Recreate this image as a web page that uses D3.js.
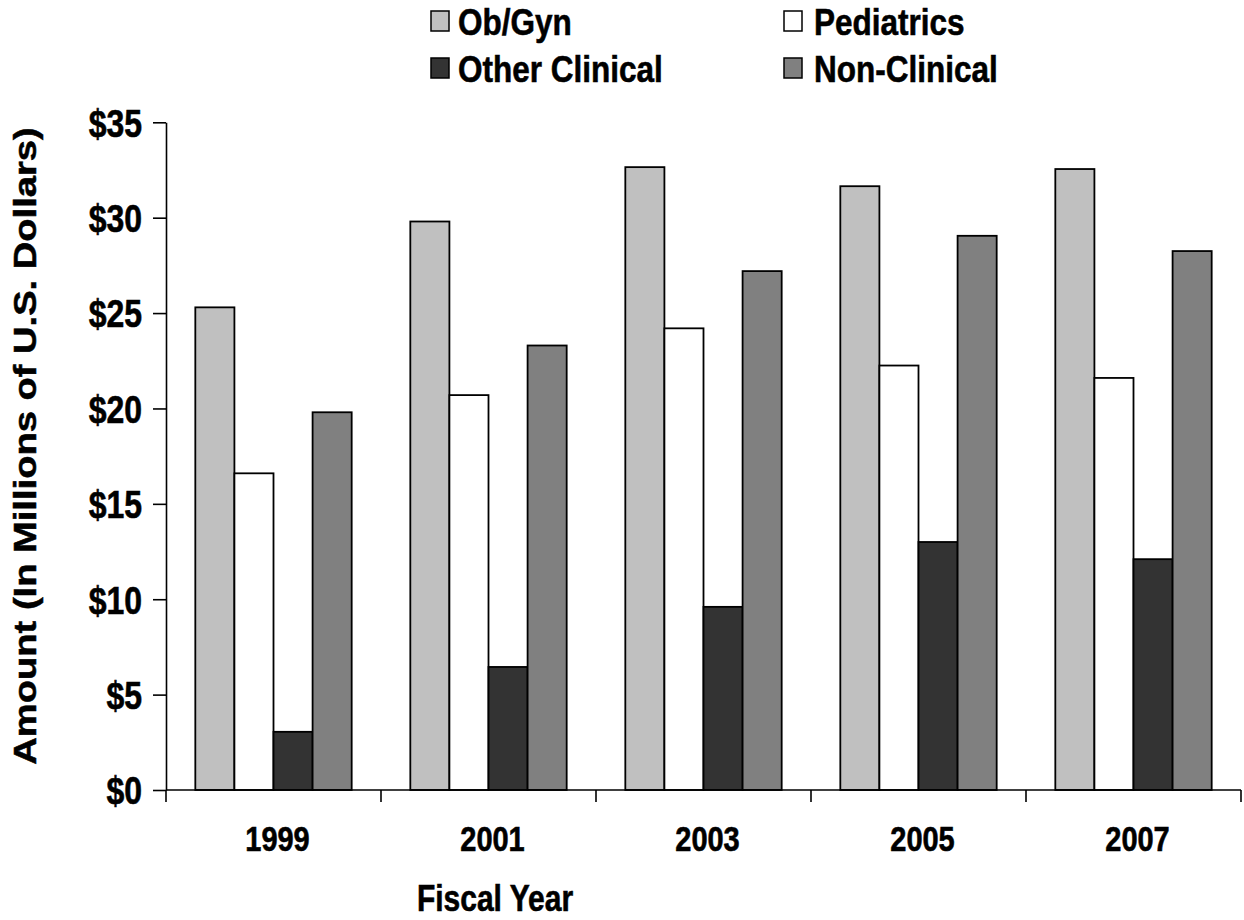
<!DOCTYPE html>
<html>
<head>
<meta charset="utf-8">
<script src="https://cdn.jsdelivr.net/npm/d3@7"></script>
<style>
  body { margin: 0; background: #fff; }
  text { font-family: "Liberation Sans", Arial, sans-serif; font-weight: bold; fill: #000; stroke: #000; stroke-width: 0.5px; }
</style>
</head>
<body>
<svg id="chart" width="1244" height="920"></svg>
<script>
const years = ["1999", "2001", "2003", "2005", "2007"];
const seriesNames = ["Ob/Gyn", "Pediatrics", "Other Clinical", "Non-Clinical"];
const obGyn = [25.3, 29.8, 32.65, 31.65, 32.55];
const pediatrics = [16.6, 20.7, 24.2, 22.25, 21.6];
const otherClinical = [3.05, 6.45, 9.6, 13.0, 12.1];
const nonClinical = [19.8, 23.3, 27.2, 29.05, 28.25];
const seriesColors = ["#C0C0C0", "#FFFFFF", "#333333", "#808080"];
const yTicks = [0, 5, 10, 15, 20, 25, 30, 35];

(function () {
const seriesValues = [obGyn, pediatrics, otherClinical, nonClinical];
const data = years.map((yv, i) => ({ year: yv, values: seriesNames.map((s, j) => ({ key: s, value: seriesValues[j][i] })) }));

const svg = d3.select("#chart");
const mLeft = 166, mRight = 1241, mTop = 122.3, mBottom = 790;
const K = 1.2; // vertical stretch of the lettering

const x0 = d3.scaleBand().domain(years).range([mLeft, mRight]).paddingInner(0).paddingOuter(0);
const x1 = d3.scaleBand().domain(seriesNames).range([0, x0.bandwidth()]).paddingOuter(0.75).paddingInner(0);
const y = d3.scaleLinear().domain([0, 35]).range([mBottom, mTop]);
const color = d3.scaleOrdinal().domain(seriesNames).range(seriesColors);

// bars
const groups = svg.append("g").selectAll("g").data(data).join("g")
  .attr("transform", d => `translate(${x0(d.year)},0)`);
groups.selectAll("rect").data(d => d.values).join("rect")
  .attr("x", d => x1(d.key))
  .attr("y", d => y(d.value))
  .attr("width", x1.bandwidth())
  .attr("height", d => y(0) - y(d.value))
  .attr("fill", d => color(d.key))
  .attr("stroke", "#000")
  .attr("stroke-width", 1.8);

// y axis
const yAxis = d3.axisLeft(y).tickValues(yTicks).tickFormat(d => "$" + d).tickSizeOuter(0).tickSizeInner(13).tickPadding(0);
const gy = svg.append("g").attr("transform", `translate(${mLeft},0)`).call(yAxis);
gy.select(".domain").attr("stroke", "#000").attr("stroke-width", 1.6);
gy.selectAll(".tick line").attr("stroke", "#000").attr("stroke-width", 1.6);
gy.selectAll(".tick text")
  .attr("x", 0).attr("dy", "0.36em")
  .attr("transform", `translate(-24,0) scale(1,${K})`)
  .style("font-size", "32px");

// x axis
const gx = svg.append("g").attr("transform", `translate(0,${mBottom})`);
gx.append("line").attr("x1", mLeft).attr("x2", mRight).attr("y1", 0).attr("y2", 0)
  .attr("stroke", "#000").attr("stroke-width", 1.6);
const boundaries = years.map(yv => x0(yv)).concat([x0(years[years.length - 1]) + x0.bandwidth()]);
gx.selectAll("line.tk").data(boundaries).join("line").attr("class", "tk")
  .attr("x1", d => d).attr("x2", d => d).attr("y1", 0).attr("y2", 12)
  .attr("stroke", "#000").attr("stroke-width", 1.6);
gx.selectAll("text").data(years).join("text")
  .attr("transform", d => `translate(${x0(d) + x0.bandwidth() / 2 + 4},48) scale(1,${K})`)
  .attr("dy", "0.36em")
  .attr("text-anchor", "middle")
  .style("font-size", "29px")
  .text(d => d);

// axis titles
svg.append("text").attr("transform", `translate(495,898) scale(1,${K})`).attr("dy", "0.36em")
  .attr("text-anchor", "middle")
  .style("font-size", "30px").text("Fiscal Year");
svg.append("text").attr("transform", `translate(36,446) rotate(-90) scale(1.23,1)`)
  .attr("text-anchor", "middle").style("font-size", "31px")
  .text("Amount (In Millions of U.S. Dollars)");

// legend
const legendPos = [[431, 21], [784, 21], [431, 68], [784, 68]];
const lg = svg.append("g").selectAll("g").data(seriesNames).join("g")
  .attr("transform", (d, i) => `translate(${legendPos[i][0]},${legendPos[i][1]})`);
lg.append("rect").attr("x", 0).attr("y", -10).attr("width", 18).attr("height", 20)
  .attr("fill", d => color(d)).attr("stroke", "#000").attr("stroke-width", 1.5);
lg.append("text")
  .attr("transform", (d, i) => `translate(${i % 2 === 0 ? 27 : 30},0) scale(1,${K})`)
  .attr("dy", "0.36em")
  .style("font-size", "31.5px").text(d => d);
})();
</script>
</body>
</html>
